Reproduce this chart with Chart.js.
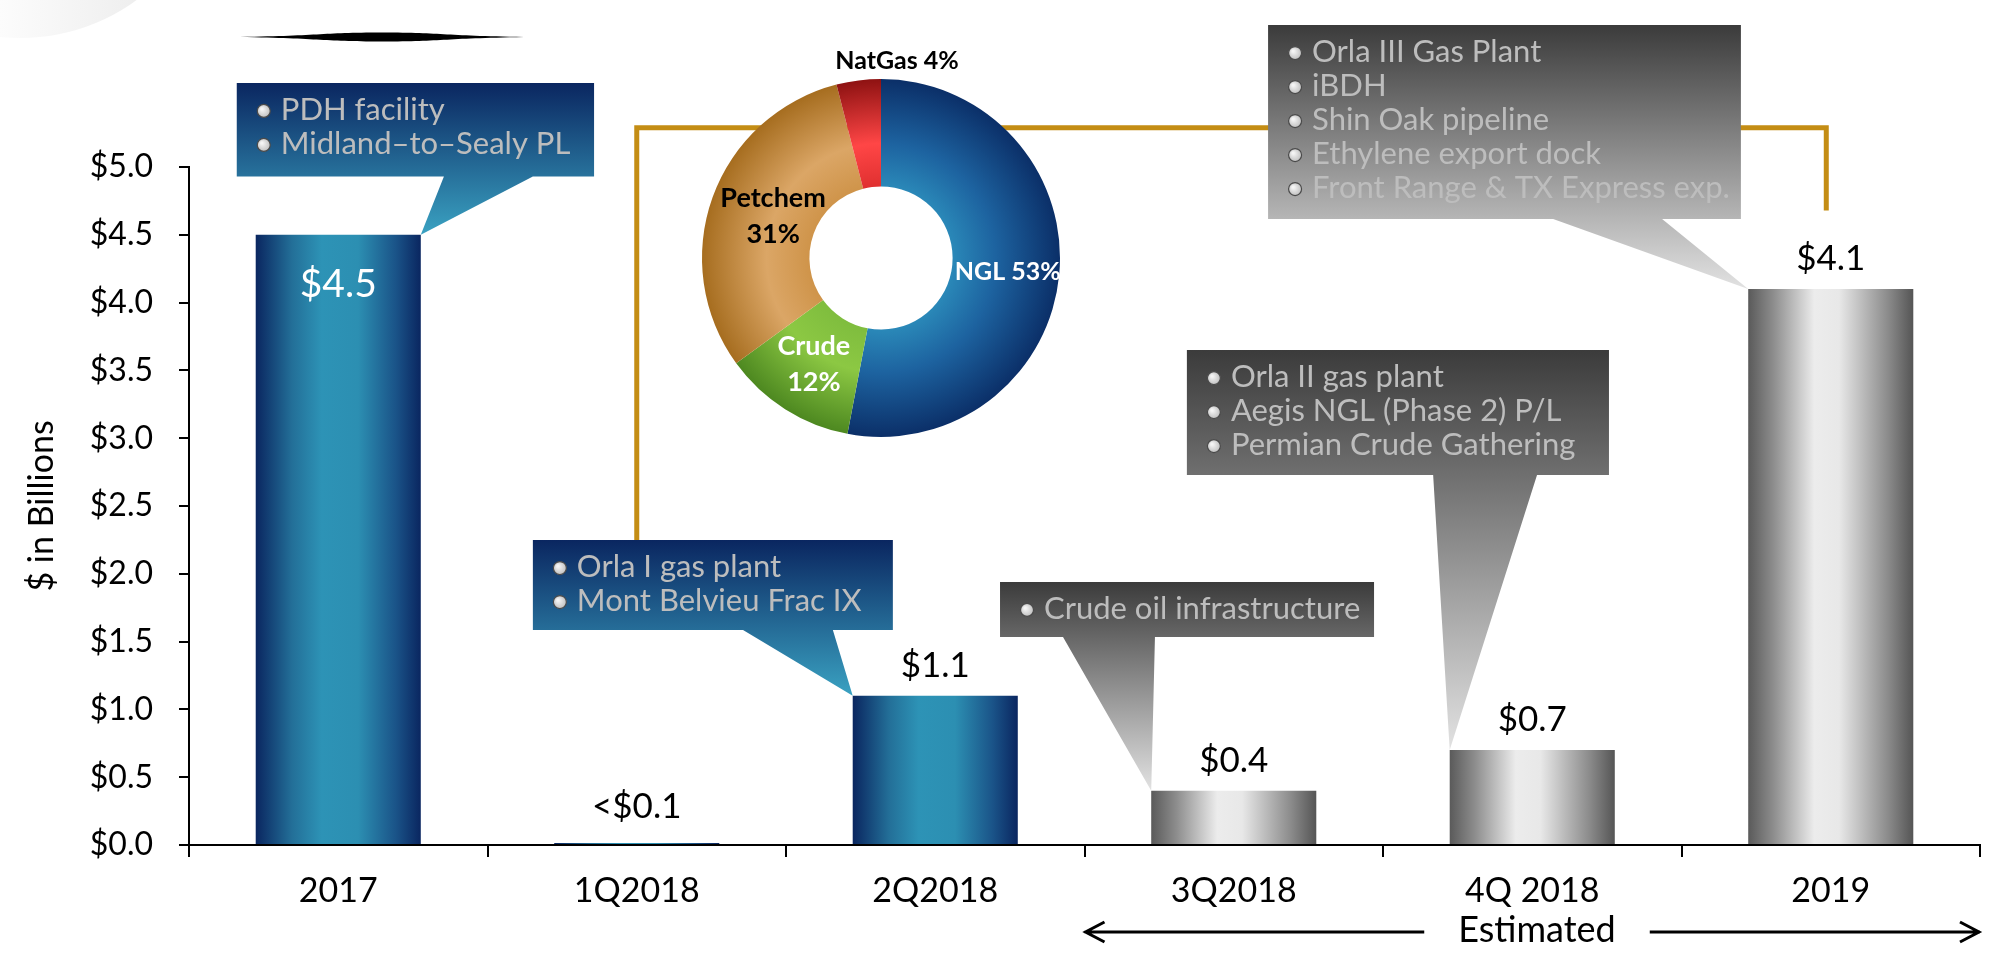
<!DOCTYPE html>
<html>
<head>
<meta charset="utf-8">
<script src="https://cdn.jsdelivr.net/npm/chart.js@4.4.1/dist/chart.umd.min.js"></script>
<style>
  html, body { margin: 0; padding: 0; background: #fff; }
  #wrap { position: relative; width: 2001px; height: 957px; overflow: hidden; }
  #capexChart { position: absolute; left: 0; top: 0; }
  #mixChart { position: absolute; left: 661px; top: 38px; }
</style>
</head>
<body>
<div id="wrap">
  <canvas id="capexChart" width="2001" height="957"></canvas>
  <canvas id="mixChart" width="440" height="440"></canvas>
</div>
<script>
// capital spend by period ($ billions)
const categories = ['2017', '1Q2018', '2Q2018', '3Q2018', '4Q 2018', '2019'];
const capex = [4.5, 0.015, 1.1, 0.4, 0.7, 4.1];
const capexLabels = ['$4.5', '<$0.1', '$1.1', '$0.4', '$0.7', '$4.1'];
const estimated = [false, false, false, true, true, true];
const yTicks = [0, 0.5, 1, 1.5, 2, 2.5, 3, 3.5, 4, 4.5, 5];

// growth capex mix (doughnut)
const mixLabels = ['NGL', 'Crude', 'Petchem', 'NatGas'];
const mixShares = [53, 12, 31, 4];

// projects per period (callouts)
const projects2017 = ['PDH facility', 'Midland–to–Sealy PL'];
const projects2Q2018 = ['Orla I gas plant', 'Mont Belvieu Frac IX'];
const projects3Q2018 = ['Crude oil infrastructure'];
const projects4Q2018 = ['Orla II gas plant', 'Aegis NGL (Phase 2) P/L', 'Permian Crude Gathering'];
const projects2019 = ['Orla III Gas Plant', 'iBDH', 'Shin Oak pipeline', 'Ethylene export dock', 'Front Range & TX Express exp.'];

const FONT = 'Lato, "Open Sans", sans-serif';
const BAR_FRAC = 0.553;
const GOLD = '#c48d14';

// callout boxes, placed in axis units (category index / $bn)
const callouts = [
  { bar: 0, items: projects2017, corner: 'right', x0: -0.34, x1: 0.857, top: 5.62, bottom: 4.93, base: [0.354, 0.652] },
  { bar: 2, items: projects2Q2018, corner: 'left', x0: 0.652, x1: 1.858, top: 2.249, bottom: 1.586, base: [1.356, 1.657] },
  { bar: 3, items: projects3Q2018, corner: 'left', x0: 2.217, x1: 3.47, top: 1.94, bottom: 1.534, base: [2.428, 2.736] },
  { bar: 4, items: projects4Q2018, corner: 'left', x0: 2.843, x1: 4.257, top: 3.65, bottom: 2.729, base: [3.668, 4.016] },
  { bar: 5, items: projects2019, corner: 'left', x0: 3.115, x1: 4.699, top: 6.047, bottom: 4.617, base: [4.07, 4.435] }
];
// gold connector from the 2Q2018 box over the doughnut to 2019
const connector = [[1, 2.249], [1, 5.29], [4.985, 5.29], [4.985, 4.68]];

function barGradient(c) {
  const xs = c.chart.scales.x;
  const fallback = estimated[c.dataIndex] ? '#bbbbbb' : '#2e93b5';
  if (c.type !== 'data' || !xs) return fallback;
  const cx = xs.getPixelForValue(c.dataIndex);
  const half = xs.width / categories.length * BAR_FRAC / 2;
  if (!isFinite(cx) || !isFinite(half) || half <= 0) return fallback;
  const g = c.chart.ctx.createLinearGradient(cx - half, 0, cx + half, 0);
  if (estimated[c.dataIndex]) {
    g.addColorStop(0, '#5a5a5a');
    g.addColorStop(0.15, '#8c8c8c');
    g.addColorStop(0.4, '#ececec');
    g.addColorStop(0.55, '#e8e8e8');
    g.addColorStop(0.85, '#8a8a8a');
    g.addColorStop(1, '#555555');
  } else {
    g.addColorStop(0, '#0a2660');
    g.addColorStop(0.22, '#236f98');
    g.addColorStop(0.4, '#2d93b6');
    g.addColorStop(0.62, '#2c8fb2');
    g.addColorStop(0.85, '#1a5388');
    g.addColorStop(1, '#0a2660');
  }
  return g;
}

function drawBullet(ctx, x, y) {
  const g = ctx.createRadialGradient(x - 2, y - 2, 1, x, y, 7);
  g.addColorStop(0, '#f4f4f4');
  g.addColorStop(1, '#bdbdbd');
  ctx.beginPath();
  ctx.arc(x, y, 6.5, 0, Math.PI * 2);
  ctx.fillStyle = g;
  ctx.fill();
  ctx.lineWidth = 1.2;
  ctx.strokeStyle = '#4a4a4a';
  ctx.stroke();
}

function drawCallout(chart, c) {
  const ctx = chart.ctx;
  const xs = chart.scales.x, ys = chart.scales.y;
  const bar = chart.getDatasetMeta(0).data[c.bar];
  const tipX = c.corner === 'right' ? bar.x + bar.width / 2 : bar.x - bar.width / 2;
  const tipY = bar.y;
  const L = xs.getPixelForValue(c.x0), R = xs.getPixelForValue(c.x1);
  const T = ys.getPixelForValue(c.top), B = ys.getPixelForValue(c.bottom);
  const b0 = xs.getPixelForValue(c.base[0]), b1 = xs.getPixelForValue(c.base[1]);

  const g = ctx.createLinearGradient(0, T, 0, tipY);
  if (estimated[c.bar]) {
    g.addColorStop(0, '#3b3b3b');
    g.addColorStop(1, '#e2e2e2');
  } else {
    g.addColorStop(0, '#0a2660');
    g.addColorStop(1, '#3aa2c2');
  }
  ctx.save();
  ctx.beginPath();
  ctx.moveTo(L, T);
  ctx.lineTo(R, T);
  ctx.lineTo(R, B);
  ctx.lineTo(b1, B);
  ctx.lineTo(tipX, tipY);
  ctx.lineTo(b0, B);
  ctx.lineTo(L, B);
  ctx.closePath();
  ctx.fillStyle = g;
  ctx.fill();

  ctx.font = '31px ' + FONT;
  ctx.fillStyle = '#fff';
  ctx.textAlign = 'left';
  ctx.textBaseline = 'middle';
  c.items.forEach((t, i) => {
    const y = T + 27 + i * 34;
    drawBullet(ctx, L + 27, y + 1);
    ctx.fillText(t, L + 44, y);
  });
  ctx.restore();
}

const decorPlugin = {
  id: 'decor',
  beforeDraw(chart) {
    const ctx = chart.ctx;
    ctx.save();
    ctx.fillStyle = '#fff';
    ctx.fillRect(0, 0, chart.width, chart.height);
    // faint disc in the corner
    const dg = ctx.createLinearGradient(0, 0, 150, 0);
    dg.addColorStop(0, '#fcfcfc');
    dg.addColorStop(1, '#ededed');
    ctx.beginPath();
    ctx.arc(20, -160, 198, 0, Math.PI * 2);
    ctx.fillStyle = dg;
    ctx.fill();
    // black lens under the title area
    ctx.beginPath();
    ctx.moveTo(232, 37);
    ctx.bezierCurveTo(320, 36, 320, 32.5, 382, 32.5);
    ctx.bezierCurveTo(444, 32.5, 444, 36, 532, 37);
    ctx.bezierCurveTo(444, 38, 444, 41.5, 382, 41.5);
    ctx.bezierCurveTo(320, 41.5, 320, 38, 232, 37);
    ctx.fillStyle = '#000';
    ctx.fill();
    ctx.restore();
  },
  afterDatasetsDraw(chart) {
    const ctx = chart.ctx;
    const xs = chart.scales.x, ys = chart.scales.y;
    // gold connector line
    ctx.save();
    ctx.beginPath();
    connector.forEach(([cx, cy], i) => {
      const px = xs.getPixelForValue(cx), py = ys.getPixelForValue(cy);
      if (i === 0) ctx.moveTo(px, py); else ctx.lineTo(px, py);
    });
    ctx.strokeStyle = GOLD;
    ctx.lineWidth = 5;
    ctx.stroke();
    ctx.restore();

    callouts.forEach(c => drawCallout(chart, c));

    // value labels
    const meta = chart.getDatasetMeta(0);
    ctx.save();
    ctx.textAlign = 'center';
    ctx.textBaseline = 'middle';
    meta.data.forEach((bar, i) => {
      if (i === 0) {
        ctx.font = '39px ' + FONT;
        ctx.fillStyle = '#fff';
        ctx.fillText(capexLabels[i], bar.x, bar.y + 50);
      } else {
        ctx.font = '35px ' + FONT;
        ctx.fillStyle = '#000';
        ctx.fillText(capexLabels[i], bar.x, bar.y - (i === 1 ? 36 : 30));
      }
    });
    ctx.restore();
  },
  afterDraw(chart) {
    // "Estimated" span arrow under the axis
    const ctx = chart.ctx;
    const xs = chart.scales.x;
    const first = estimated.indexOf(true), last = estimated.lastIndexOf(true);
    const x0 = xs.getPixelForValue(first - 0.5), x1 = xs.getPixelForValue(last + 0.5);
    const y = 932;
    ctx.save();
    ctx.font = '36px ' + FONT;
    ctx.fillStyle = '#000';
    ctx.textAlign = 'center';
    ctx.textBaseline = 'middle';
    const tx = 1537;
    const tw = ctx.measureText('Estimated').width;
    ctx.fillText('Estimated', tx, y - 2);
    ctx.strokeStyle = '#000';
    ctx.lineWidth = 3;
    ctx.beginPath();
    ctx.moveTo(x0, y); ctx.lineTo(tx - tw / 2 - 34, y);
    ctx.moveTo(tx + tw / 2 + 34, y); ctx.lineTo(x1, y);
    ctx.moveTo(x0 + 20, y - 10); ctx.lineTo(x0 + 1, y); ctx.lineTo(x0 + 20, y + 10);
    ctx.moveTo(x1 - 20, y - 10); ctx.lineTo(x1 - 1, y); ctx.lineTo(x1 - 20, y + 10);
    ctx.stroke();
    ctx.restore();
  }
};

new Chart(document.getElementById('capexChart'), {
  type: 'bar',
  data: {
    labels: categories,
    datasets: [{
      data: capex,
      backgroundColor: barGradient,
      borderWidth: 0,
      barPercentage: BAR_FRAC,
      categoryPercentage: 1
    }]
  },
  options: {
    responsive: false,
    animation: false,
    layout: { padding: { top: 167, right: 21, left: 0, bottom: 0 } },
    plugins: { legend: { display: false }, tooltip: { enabled: false } },
    scales: {
      x: {
        offset: true,
        grid: { offset: true, drawOnChartArea: false, drawTicks: true, tickLength: 12, color: '#000', lineWidth: 2 },
        border: { display: true, color: '#000', width: 2 },
        ticks: { color: '#000', font: { family: FONT, size: 34 }, padding: 14 },
        afterFit: s => { s.height = 112; }
      },
      y: {
        min: 0,
        max: 5,
        afterBuildTicks: s => { s.ticks = yTicks.map(v => ({ value: v })); },
        grid: { drawOnChartArea: false, drawTicks: true, tickLength: 10, color: '#000', lineWidth: 2 },
        border: { display: true, color: '#000', width: 2 },
        ticks: { color: '#000', font: { family: FONT, size: 32 }, padding: 26, callback: v => '$' + Number(v).toFixed(1) },
        title: { display: true, text: '$ in Billions', color: '#000', font: { family: FONT, size: 34 }, padding: { top: 22, bottom: 0 } },
        afterFit: s => { s.width = 189; }
      }
    }
  },
  plugins: [decorPlugin]
});

// doughnut of spend mix
const mixStops = {
  NGL: ['#2a88b8', '#1d63a0', '#0b2f68'],
  Crude: ['#7fbd3e', '#8cc843', '#4d8820'],
  Petchem: ['#cf944a', '#dba666', '#a66d1f'],
  NatGas: ['#e03030', '#ff4646', '#8e1212']
};

function mixGradient(c) {
  const area = c.chart.chartArea;
  const s = mixStops[mixLabels[c.dataIndex]] || mixStops.NGL;
  if (!area) return s[1];
  const cx = (area.left + area.right) / 2, cy = (area.top + area.bottom) / 2;
  const outer = Math.min(area.right - area.left, area.bottom - area.top) / 2;
  const inner = outer * 0.4;
  if (!isFinite(cx) || !isFinite(cy) || !(outer > 0)) return s[1];
  const g = c.chart.ctx.createRadialGradient(cx, cy, inner, cx, cy, outer);
  g.addColorStop(0, s[0]);
  g.addColorStop(0.4, s[1]);
  g.addColorStop(1, s[2]);
  return g;
}

const mixLabelPlugin = {
  id: 'mixLabels',
  afterDatasetsDraw(chart) {
    const ctx = chart.ctx;
    const arcs = chart.getDatasetMeta(0).data;
    ctx.save();
    ctx.textAlign = 'center';
    ctx.textBaseline = 'middle';
    arcs.forEach((arc, i) => {
      const name = mixLabels[i], pct = mixShares[i] + '%';
      const p = arc.tooltipPosition();
      if (name === 'NatGas') {
        ctx.font = 'bold 25px ' + FONT;
        ctx.fillStyle = '#000';
        ctx.fillText(name + ' ' + pct, arc.x + 16, arc.y - arc.outerRadius - 18);
      } else if (name === 'NGL') {
        ctx.font = 'bold 25px ' + FONT;
        ctx.fillStyle = '#fff';
        ctx.fillText(name + ' ' + pct, p.x + 2, p.y + 2);
      } else {
        ctx.font = 'bold 27px ' + FONT;
        ctx.fillStyle = name === 'Petchem' ? '#000' : '#fff';
        const dx = name === 'Petchem' ? 10 : 0;
        ctx.fillText(name, p.x + dx, p.y - 17);
        ctx.fillText(pct, p.x + dx, p.y + 19);
      }
    });
    ctx.restore();
  }
};

new Chart(document.getElementById('mixChart'), {
  type: 'doughnut',
  data: {
    labels: mixLabels,
    datasets: [{ data: mixShares, backgroundColor: mixGradient, borderWidth: 0 }]
  },
  options: {
    responsive: false,
    animation: false,
    cutout: '40%',
    layout: { padding: 41 },
    plugins: { legend: { display: false }, tooltip: { enabled: false } }
  },
  plugins: [mixLabelPlugin]
});
</script>
</body>
</html>
